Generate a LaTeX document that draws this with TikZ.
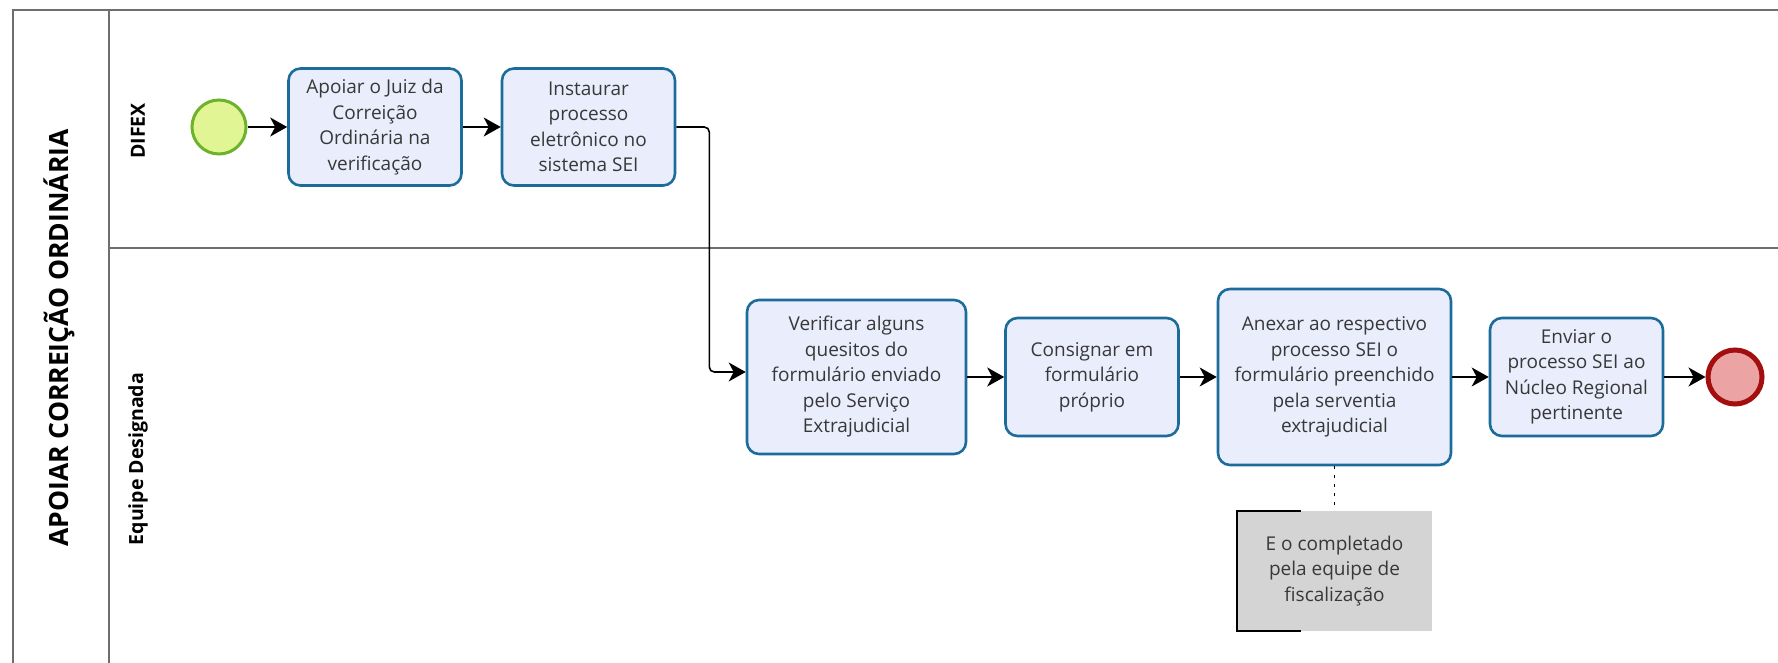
\documentclass[tikz,border=0pt]{standalone}
\usepackage{fontspec}
\setmainfont{Open Sans}
\usetikzlibrary{arrows.meta,calc}
\definecolor{taskfill}{HTML}{E9EDFC}
\definecolor{taskline}{HTML}{1B6C9A}
\definecolor{startfill}{HTML}{E2F595}
\definecolor{startline}{HTML}{6CB22A}
\definecolor{endfill}{HTML}{EBA3A3}
\definecolor{endline}{HTML}{A30F0F}
\definecolor{poolline}{HTML}{6E6E6E}
\definecolor{txt}{HTML}{383838}
\definecolor{notefill}{HTML}{D4D4D4}
\begin{document}
\begin{tikzpicture}[x=1pt,y=-1pt,
  pool/.style={draw=poolline,line width=2pt},
  task/.style={draw=taskline,fill=taskfill,line width=2.6pt,rounded corners=12pt,
    align=center,inner sep=0pt,text=txt,font=\fontsize{19}{25.5}\selectfont},
  startev/.style={circle,draw=startline,fill=startfill,line width=3pt,minimum size=54pt,inner sep=0pt},
  endev/.style={circle,draw=endline,fill=endfill,line width=5pt,minimum size=54pt,inner sep=0pt},
  flow/.style={draw=black,line width=1.6pt,-{Stealth[length=17pt,width=19pt,inset=5pt]}},
  lanelabel/.style={rotate=90,text=black,font=\fontsize{19.5}{24}\selectfont\bfseries},
  note/.style={fill=notefill,minimum width=195pt,minimum height=120pt,inner sep=0pt,
    align=center,text=txt,font=\fontsize{19}{25.5}\selectfont}]
\useasboundingbox (0,0) rectangle (1778,663);
\fill[white] (0,0) rectangle (1778,663);

% pool and lanes
\draw[pool] (13,663) -- (13,10) -- (1778,10);
\draw[pool] (108.5,10) -- (108.5,663);
\draw[pool] (108.5,248) -- (1778,248);
\node[rotate=90,text=black,font=\fontsize{26.5}{32}\selectfont\bfseries] (title) at (59,338) {APOIAR CORREIÇÃO ORDINÁRIA};
\node[lanelabel] (difex) at (138,131) {DIFEX};
\node[lanelabel] (equipe) at (138,459) {Equipe Designada};

% DIFEX lane
\node[startev] (start) at (219,127) {};
\node[task,minimum width=173pt,minimum height=117pt] (t1) at (375,127)
  {Apoiar o Juiz da\\Correição\\Ordinária na\\verificação};
\node[task,minimum width=173pt,minimum height=117pt] (t2) at (588.5,127)
  {Instaurar\\processo\\eletrônico no\\sistema SEI};

% Equipe Designada lane
\node[task,minimum width=219pt,minimum height=154pt] (t3) at (856.5,377)
  {Verificar alguns\\quesitos do\\formulário enviado\\pelo Serviço\\Extrajudicial};
\node[task,minimum width=173pt,minimum height=118pt] (t4) at (1092,377)
  {Consignar em\\formulário\\próprio};
\node[task,minimum width=233pt,minimum height=176pt] (t5) at (1334.5,377)
  {Anexar ao respectivo\\processo SEI o\\formulário preenchido\\pela serventia\\extrajudicial};
\node[task,minimum width=173pt,minimum height=118pt] (t6) at (1576.5,377)
  {Enviar o\\processo SEI ao\\Núcleo Regional\\pertinente};
\node[endev] (end) at (1735,377) {};

% annotation
\node[note] (ann) at (1334.5,571) {E o completado\\pela equipe de\\fiscalização};
\draw[black,line width=2pt] ([xshift=64pt]ann.north west) -- (ann.north west)
  -- (ann.south west) -- ([xshift=64pt]ann.south west);
\draw[black,line width=1.6pt,dash pattern=on 3pt off 6pt] (t5.south) -- (ann.north);

% sequence flows
\draw[flow] (start) -- (t1);
\draw[flow] (t1) -- (t2);
\draw[flow,rounded corners=5pt] (t2.east) -- ++(33,0) |- ([yshift=5pt]t3.west);
\draw[flow] (t3) -- (t4);
\draw[flow] (t4) -- (t5);
\draw[flow] (t5) -- (t6);
\draw[flow] (t6) -- (end);
\end{tikzpicture}
\end{document}
